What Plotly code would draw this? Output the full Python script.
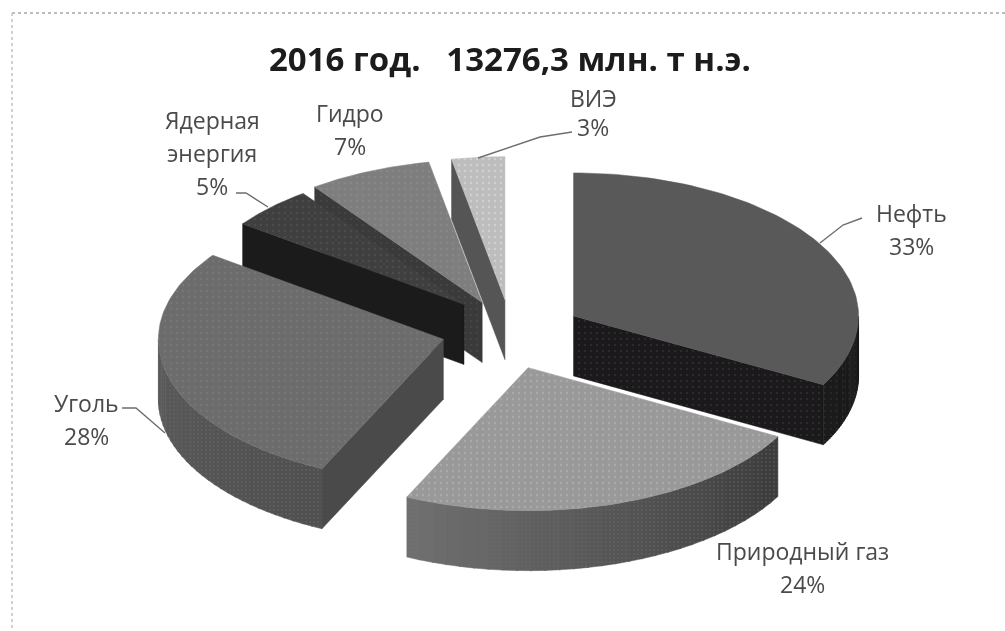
import numpy as np
import plotly.graph_objects as go

# ---- data ----
categories = ["Нефть", "Природный газ", "Уголь", "Ядерная энергия", "Гидро", "ВИЭ"]
values = [33, 24, 28, 5, 7, 3]
title_text = "2016 год.   13276,3 млн. т н.э."

top_colors = ["#595959", "#999999", "#6c6c6c", "#3f3f3f", "#7e7e7e", "#bdbdbd"]
side_colors = ["#1b191b", "#5a5a5a", "#4a4a4a", "#1b1b1b", "#3a3a3a", "#555555"]
wall_gray_start = [0x1b, 0x3c, 0x50, 0x1b, 0x3a, 0x55]
wall_gray_end = [0x1b, 0x70, 0x5c, 0x1b, 0x3a, 0x55]
dot_colors = ["#595959", "#b8b8b8", "#808080", "#5a5a5a", "#909090", "#e6e6e6"]
has_dots = [False, True, True, True, True, True]
wall_dot_colors = ["#4a4a4a", "#6a6a6a", "#6c6c6c", "#1b1b1b", "#555555", "#555555"]
slice_dx = [-2, -6, 5, 6, 1, 1]
slice_dy = [0, -3, -5, -4, 2, 2]
slice_scale = [1, 1, 1, 0.96, 1, 1]

# ---- projection of the pie ----
CX, CY = 511.0, 335.0
RX, RY = 285.0, 143.0
DEPTH = 60.0
PULL = 75.0
FONT = "'Open Sans', sans-serif"


def apex(mid):
    return CX + PULL * np.sin(mid), CY - PULL * 0.5 * np.cos(mid)


def rim(ax, ay, ang, scale=1.0):
    return ax + scale * RX * np.sin(ang), ay - scale * RY * np.cos(ang)


fig = go.Figure()


def face(xs, ys, color, dots=None, size=6, solidity=0.16, name=None):
    kw = {}
    if dots:
        kw["fillpattern"] = dict(shape=".", bgcolor=color, fgcolor=dots, size=size, solidity=solidity)
    fig.add_trace(go.Scatter(
        x=list(xs), y=list(ys), mode="lines", fill="toself", fillcolor=color,
        line=dict(width=0.5, color=color), hoverinfo="skip", showlegend=False, name=name, **kw))


fractions = np.cumsum([0] + values) / sum(values)
slices = []
for i, name in enumerate(categories):
    a0, a1 = 2 * np.pi * fractions[i], 2 * np.pi * fractions[i + 1]
    slices.append((i, name, a0, a1))

# painter order: from the back of the pie to the front
order = [5, 4, 3, 2, 0, 1]
for i in order:
    _, name, a0, a1 = slices[i]
    ax, ay = apex((a0 + a1) / 2)
    ax += slice_dx[i]
    ay += slice_dy[i]
    s = slice_scale[i]
    # radial side walls that face the viewer
    for ang, normal in ((a0, a0 - np.pi / 2), (a1, a1 + np.pi / 2)):
        if np.cos(normal) < 0:
            rx, ry = rim(ax, ay, ang, s)
            face([ax, rx, rx, ax, ax], [ay, ry, ry + DEPTH, ay + DEPTH, ay], side_colors[i],
                 dots=wall_dot_colors[i] if i in (0, 4) else None, size=6, solidity=0.08, name=name + " сторона")
    # outer wall, front half only, shaded in strips
    lo, hi = max(a0, np.pi / 2), min(a1, 3 * np.pi / 2)
    if hi > lo:
        n_strips = 30
        edges = np.linspace(lo, hi, n_strips + 1)
        for k in range(n_strips):
            ts = np.linspace(edges[k], edges[k + 1] + (0.005 if k < n_strips - 1 else 0), 6)
            xr, yr = rim(ax, ay, ts, s)
            g = int(wall_gray_start[i] + (wall_gray_end[i] - wall_gray_start[i]) * k / (n_strips - 1))
            face(np.r_[xr, xr[::-1], xr[0]], np.r_[yr, yr[::-1] + DEPTH, yr[0]], f"rgb({g},{g},{g})",
                 dots=wall_dot_colors[i], size=6 if i == 0 else 4, solidity=0.08 if i == 0 else 0.2,
                 name=name + " обод")
    # top surface
    ts = np.linspace(a0, a1, 80)
    xr, yr = rim(ax, ay, ts, s)
    face(np.r_[ax, xr, ax], np.r_[ay, yr, ay], top_colors[i],
         dots=dot_colors[i] if has_dots[i] else None, size=6, solidity=0.12, name=name)

# ---- leader lines and labels ----
leaders = [
    ([862, 843, 820], [218, 225, 243]),
    ([122, 136, 165], [408, 408, 433]),
    ([236, 246, 268], [193, 193, 207]),
    ([572, 540, 478], [132, 137, 158]),
]
for xs, ys in leaders:
    fig.add_trace(go.Scatter(x=xs, y=ys, mode="lines", line=dict(color="#6e6e6e", width=1.4),
                             hoverinfo="skip", showlegend=False))

label_x = {"Нефть": 911, "Природный газ": 802, "Уголь": 86, "Ядерная энергия": 212, "Гидро": 350, "ВИЭ": 593}
label_y = {"Нефть": 213, "Природный газ": 551, "Уголь": 403, "Ядерная энергия": 120, "Гидро": 113, "ВИЭ": 98}
label_step = {"ВИЭ": 29}
LINE_STEP = 33
annotations = []
for name, val in zip(categories, values):
    lines = name.replace(" энергия", "\nэнергия").split("\n") + [f"{val}%"]
    step = label_step.get(name, LINE_STEP)
    for n, line in enumerate(lines):
        annotations.append(dict(x=label_x[name], y=label_y[name] + n * step, xref="x", yref="y",
                                text=line, showarrow=False,
                                font=dict(family=FONT, size=23, color="#4a4a4a")))
annotations.append(dict(x=510, y=58, xref="x", yref="y", text=f"<b>{title_text}</b>", showarrow=False,
                        font=dict(family=FONT, size=33, color="#1c1c1c")))

fig.update_layout(
    width=1005, height=631, margin=dict(l=0, r=0, t=0, b=0),
    paper_bgcolor="white", plot_bgcolor="white", showlegend=False,
    xaxis=dict(range=[0, 1005], visible=False, fixedrange=True),
    yaxis=dict(range=[631, 0], visible=False, fixedrange=True),
    annotations=annotations,
    shapes=[
        dict(type="line", x0=12, x1=1005, y0=13, y1=13, xref="x", yref="y",
             line=dict(color="#bdbdbd", width=2, dash="dot")),
        dict(type="line", x0=12, x1=12, y0=13, y1=631, xref="x", yref="y",
             line=dict(color="#d0d0d0", width=2, dash="dot")),
    ],
)
fig.write_html("out.html", config={"displayModeBar": False},
               post_script="var c=document.querySelector('.svg-container');if(c){c.style.filter='blur(0.6px)';}document.body.style.margin='0';")
